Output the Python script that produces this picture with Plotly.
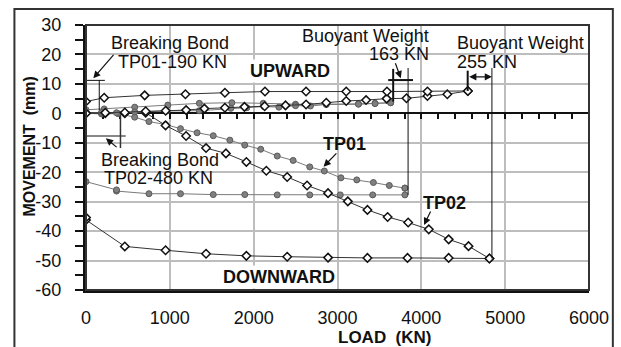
import plotly.graph_objects as go

# ---------------- data ----------------
# TP02 (open diamonds)
tp02_up_load_x = [0, 230, 463, 712, 950, 1194, 1412, 1657, 1890, 2131, 2380, 2625, 2866, 3104, 3341, 3586, 3823, 4073, 4310, 4555]
tp02_up_load_y = [0, 0.2, 0.3, 0.7, 0.9, 1.1, 1.6, 1.9, 2.2, 2.4, 2.7, 3.0, 3.6, 4.2, 4.5, 5.0, 5.1, 5.9, 6.5, 7.6]
tp02_up_unload_x = [4555, 4073, 3590, 3104, 2625, 2135, 1657, 1186, 700, 217, 0]
tp02_up_unload_y = [7.6, 7.4, 7.4, 7.4, 7.4, 7.4, 7.0, 6.5, 6.1, 5.3, 4.0]
tp02_dn_load_x = [0, 230, 463, 712, 949, 1194, 1432, 1669, 1913, 2151, 2400, 2637, 2887, 3123, 3357, 3598, 3843, 4089, 4326, 4563, 4812]
tp02_dn_load_y = [0, 0, 0, 0.2, -4.1, -7.7, -11.8, -13.6, -16.5, -19.5, -21.6, -24.5, -27.1, -29.9, -32.8, -35.2, -37.1, -39.4, -42.8, -45.1, -49.3]
tp02_dn_unload_x = [4812, 4326, 3835, 3357, 2887, 2400, 1913, 1432, 949, 463, 0, 0]
tp02_dn_unload_y = [-49.3, -49.1, -49.1, -49.1, -49.0, -48.7, -48.4, -47.7, -46.5, -45.2, -36.2, -35.4]

# TP01 (grey circles)
tp01_up_load_x = [0, 185, 364, 581, 964, 1352, 1728, 1918, 2123, 2301, 2499, 2677, 2866, 3250, 3448, 3634]
tp01_up_load_y = [0, 0.3, 0.2, 0.5, 0.8, 0.9, 1.7, 1.9, 2.3, 2.1, 2.6, 2.5, 3.0, 3.1, 3.3, 3.6]
tp01_up_unload_x = [3634, 3448, 3250, 2866, 2499, 2115, 1740, 1352, 976, 581, 217, 0]
tp01_up_unload_y = [3.6, 3.4, 3.2, 3.1, 3.1, 3.4, 3.6, 3.4, 2.8, 2.1, 1.5, 1.2]
tp01_dn_load_x = [0, 185, 383, 581, 751, 949, 1127, 1325, 1518, 1716, 1894, 2084, 2281, 2471, 2669, 2843, 3041, 3230, 3428, 3618, 3804]
tp01_dn_load_y = [0, -0.2, -0.1, -1.3, -2.8, -3.8, -5.2, -6.6, -7.6, -9.1, -10.8, -12.2, -14.5, -16.0, -18.2, -19.6, -21.9, -22.6, -23.5, -24.5, -25.4]
tp01_dn_unload_x = [3804, 3804, 3420, 3033, 2669, 2281, 1894, 1518, 1127, 751, 364, 364, 0]
tp01_dn_unload_y = [-25.4, -27.7, -27.7, -27.7, -27.7, -27.7, -27.6, -27.6, -27.3, -27.3, -26.4, -26.0, -23.2]

x_ticks = [0, 1000, 2000, 3000, 4000, 5000, 6000]
y_ticks = [-60, -50, -40, -30, -20, -10, 0, 10, 20, 30]

FONT = "Liberation Sans, Arial, sans-serif"
TXT = 18

fig = go.Figure()

def tp02(x, y):
    fig.add_trace(go.Scatter(
        x=x, y=y, mode="lines+markers",
        line=dict(color="#333333", width=1),
        marker=dict(symbol="diamond", size=6.5, color="white",
                    line=dict(color="#111111", width=1.5)),
        showlegend=False, hoverinfo="skip"))

def tp01(x, y):
    fig.add_trace(go.Scatter(
        x=x, y=y, mode="lines+markers",
        line=dict(color="#7a7a7a", width=1),
        marker=dict(symbol="circle", size=6, color="#808080",
                    line=dict(color="#5a5a5a", width=1)),
        showlegend=False, hoverinfo="skip"))

tp01(tp01_dn_unload_x, tp01_dn_unload_y)
tp01(tp01_dn_load_x, tp01_dn_load_y)
tp02(tp02_dn_unload_x, tp02_dn_unload_y)
tp02(tp02_dn_load_x, tp02_dn_load_y)
tp01(tp01_up_unload_x, tp01_up_unload_y)
tp01(tp01_up_load_x, tp01_up_load_y)
tp02(tp02_up_load_x, tp02_up_load_y)
tp02(tp02_up_unload_x, tp02_up_unload_y)

# dummy trace to register the zero-line axis
fig.add_trace(go.Scatter(x=[0], y=[0], xaxis="x2", yaxis="y", mode="markers",
                         marker=dict(opacity=0), showlegend=False, hoverinfo="skip"))

# ---------------- annotation lines ----------------
def seg(x0, y0, x1, y1, w=1, c="#111111"):
    fig.add_shape(type="line", xref="x", yref="y", x0=x0, y0=y0, x1=x1, y1=y1,
                  line=dict(color=c, width=w))

# Breaking bond TP01
seg(-20, 11.2, 225, 11.2, 1)
seg(158, 11.2, 158, 1.1, 1)
# Breaking bond TP02
seg(-30, -7.7, 474, -7.7, 1)
seg(411, -0.6, 411, -11.8, 1.5, "#333333")
# Buoyant weight 163 KN
seg(3664, 15.1, 3664, 4.0, 2)
seg(3842, 15.4, 3842, -27.7, 1)
seg(3605, 11.3, 3901, 11.3, 2)
# Buoyant weight 255 KN
seg(4553, 14.5, 4553, 7.6, 2)
seg(4842, 15.4, 4842, -49.3, 1)

# frames
fig.add_shape(type="rect", xref="paper", yref="paper", x0=0, y0=0, x1=1, y1=1,
              line=dict(color="#333333", width=2), layer="above")
fig.add_shape(type="rect", xref="paper", yref="paper", x0=-0.1423, y0=-0.23, x1=1.0474, y1=1.0604,
              line=dict(color="#333333", width=2))

def text(x, y, t, bold=False, size=TXT, xanchor="center", bg=None):
    fig.add_annotation(x=x, y=y, xref="x", yref="y", text=(f"<b>{t}</b>" if bold else t),
                       showarrow=False, xanchor=xanchor, yanchor="middle",
                       font=dict(family=FONT, size=size, color="#111111"),
                       bgcolor=bg, borderpad=1)

def arrow(tx, ty, hx, hy, side="end"):
    fig.add_annotation(x=hx, y=hy, ax=tx, ay=ty, xref="x", yref="y", axref="x", ayref="y",
                       text="", showarrow=True, arrowhead=2, arrowsize=1.2, arrowwidth=1.2,
                       arrowcolor="#111111", arrowside=side)

text(996, 24.0, "Breaking Bond")
text(1032, 17.5, "TP01-190 KN")
arrow(344, 20.4, 87, 11.9)

text(877, -16.0, "Breaking Bond")
text(866, -21.9, "TP02-480 KN")
arrow(383, -11.9, 237, -8.5)

text(4115, 26.3, "Buoyant Weight", xanchor="right")
text(4115, 20.0, "163 KN", xanchor="right")
arrow(3684, 17.5, 3755, 11.9)

text(4396, 23.8, "Buoyant Weight", xanchor="left")
text(4396, 17.3, "255 KN", xanchor="left")
arrow(4553, 12.4, 4842, 12.4, side="end+start")

text(2431, 14.5, "UPWARD", bold=True, size=18, bg="white")
text(2300, -55.6, "DOWNWARD", bold=True, size=18, bg="white")
text(3083, -10.5, "TP01", bold=True, size=18)
arrow(3004, -13.1, 2834, -18.1)
text(4279, -30.6, "TP02", bold=True, size=18)
arrow(4119, -32.8, 4032, -37.9)

fig.add_annotation(x=0.593, y=-0.181, xref="paper", yref="paper",
                   xanchor="center", yanchor="middle",
                   text="<b>LOAD\u00a0 (KN)</b>", showarrow=False,
                   font=dict(family=FONT, size=17, color="#111111"))
fig.add_annotation(x=-0.112, y=0.54, xref="paper", yref="paper", textangle=-90,
                   xanchor="center", yanchor="middle",
                   text="<b>MOVEMENT\u00a0 (mm)</b>", showarrow=False,
                   font=dict(family=FONT, size=16, color="#111111"))

fig.update_layout(
    width=621, height=347,
    margin=dict(l=86, r=29, t=25, b=57),
    paper_bgcolor="white", plot_bgcolor="white",
    xaxis=dict(range=[0, 6000], tickvals=x_ticks, ticktext=[str(v) for v in x_ticks],
               showgrid=True, gridcolor="#bdbdbd", gridwidth=1.5,
               showline=True, linecolor="#111111", linewidth=3,
               ticks="", ticklabelstandoff=9, zeroline=False,
               tickfont=dict(family=FONT, size=18, color="#111111")),
    xaxis2=dict(range=[0, 6000], overlaying="x", anchor="free", position=2/3,
                side="bottom", showline=True, linecolor="#111111", linewidth=2,
                ticks="outside", ticklen=5, tickwidth=1.5, tickcolor="#111111",
                tick0=0, dtick=200, showticklabels=False, showgrid=False,
                zeroline=False, layer="below traces"),
    yaxis=dict(range=[-60, 30], tickvals=y_ticks,
               ticktext=[str(v) + "\u00a0\u00a0" for v in y_ticks],
               showgrid=True, gridcolor="#bdbdbd", gridwidth=1.5,
               showline=True, linecolor="#111111", linewidth=3,
               ticks="outside", ticklen=8, tickwidth=1.5, tickcolor="#111111",
               minor=dict(dtick=5, tick0=0, ticks="outside", ticklen=8, tickwidth=1.5,
                          tickcolor="#111111", showgrid=False),
               zeroline=False,
               tickfont=dict(family=FONT, size=18, color="#111111")),
)

fig.write_html("out.html")
